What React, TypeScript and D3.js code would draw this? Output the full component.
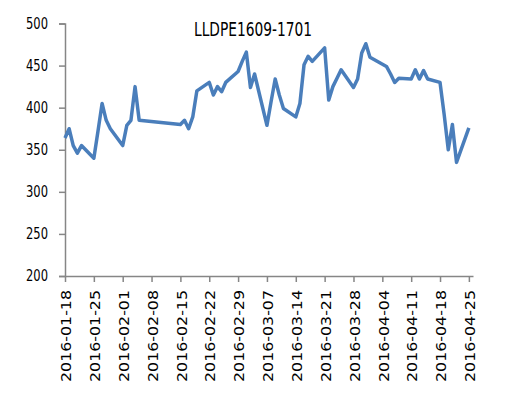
import React, { useEffect, useRef } from 'react'
import * as d3 from 'd3'

const title = 'LLDPE1609-1701'

const dates = [
  '2016-01-18', '2016-01-19', '2016-01-20', '2016-01-21', '2016-01-22',
  '2016-01-25', '2016-01-26', '2016-01-27', '2016-01-28', '2016-01-29',
  '2016-02-01', '2016-02-02', '2016-02-03', '2016-02-04', '2016-02-05',
  '2016-02-15', '2016-02-16', '2016-02-17', '2016-02-18', '2016-02-19',
  '2016-02-22', '2016-02-23', '2016-02-24', '2016-02-25', '2016-02-26',
  '2016-02-29', '2016-03-01', '2016-03-02', '2016-03-03', '2016-03-04',
  '2016-03-07', '2016-03-08', '2016-03-09', '2016-03-10', '2016-03-11',
  '2016-03-14', '2016-03-15', '2016-03-16', '2016-03-17', '2016-03-18',
  '2016-03-21', '2016-03-22', '2016-03-23', '2016-03-24', '2016-03-25',
  '2016-03-28', '2016-03-29', '2016-03-30', '2016-03-31', '2016-04-01',
  '2016-04-05', '2016-04-06', '2016-04-07', '2016-04-08',
  '2016-04-11', '2016-04-12', '2016-04-13', '2016-04-14', '2016-04-15',
  '2016-04-18', '2016-04-19', '2016-04-20', '2016-04-21', '2016-04-22',
  '2016-04-25',
]

const values = [
  364, 375, 355, 346, 355,
  340, 372, 405, 385, 375,
  355, 379, 385, 425, 385,
  380, 385, 375, 389, 420,
  430, 415, 425, 419, 430,
  443, 455, 466, 424, 440,
  379, 407, 434, 415, 399,
  389, 405, 451, 461, 455,
  471, 409, 425, 435, 445,
  424, 434, 465, 476, 460,
  449, 440, 430, 435,
  434, 445, 434, 444, 434,
  430, 392, 350, 380, 335,
  376,
]

const xTickLabels = [
  '2016-01-18', '2016-01-25', '2016-02-01', '2016-02-08', '2016-02-15',
  '2016-02-22', '2016-02-29', '2016-03-07', '2016-03-14', '2016-03-21',
  '2016-03-28', '2016-04-04', '2016-04-11', '2016-04-18', '2016-04-25',
]

const yTicks = [200, 250, 300, 350, 400, 450, 500]

const W = 505
const H = 406
const font = '"DejaVu Sans Condensed", "Liberation Sans Narrow", Arial, sans-serif'

export default function App() {
  const ref = useRef<SVGSVGElement>(null)

  useEffect(() => {
    const svg = d3.select(ref.current)
    svg.selectAll('*').remove()

    const parse = d3.utcParse('%Y-%m-%d')
    const data = dates.map((d, i) => ({ date: parse(d)!, value: values[i] }))
    const xTicks = xTickLabels.map(d => parse(d)!)

    const x = d3.scaleUtc()
      .domain([parse('2016-01-18')!, parse('2016-04-26')!])
      .range([65, 473])
    const y = d3.scaleLinear().domain([200, 500]).range([276, 23.5])

    const axisColor = '#868686'

    // y axis
    const yAxis = svg.append('g').attr('transform', 'translate(65,0)')
      .call(d3.axisLeft(y).tickValues(yTicks).tickSize(6).tickPadding(11))
    yAxis.select('.domain').attr('stroke', axisColor).attr('stroke-width', 1.5)
    yAxis.selectAll('line').attr('stroke', axisColor).attr('stroke-width', 1.5)
    yAxis.selectAll('text')
      .attr('font-family', font)
      .attr('font-size', 15)
      .attr('fill', '#000')
      .attr('textLength', 22)
      .attr('lengthAdjust', 'spacingAndGlyphs')

    // x axis
    const xAxis = svg.append('g').attr('transform', 'translate(0,276)')
      .call(d3.axisBottom(x).tickValues(xTicks).tickSize(6).tickSizeOuter(0)
        .tickFormat(d3.utcFormat('%Y-%m-%d') as any))
    xAxis.select('.domain').attr('stroke', axisColor).attr('stroke-width', 1.5)
    xAxis.selectAll('line').attr('stroke', axisColor).attr('stroke-width', 1.5)
    xAxis.selectAll('text')
      .attr('font-family', font)
      .attr('font-size', 13.5)
      .attr('fill', '#000')
      .attr('transform', 'rotate(-90)')
      .attr('text-anchor', 'end')
      .attr('x', -14)
      .attr('y', 1)
      .attr('dy', '0.35em')
      .attr('textLength', 92)
      .attr('lengthAdjust', 'spacingAndGlyphs')

    // line
    const line = d3.line<{ date: Date; value: number }>()
      .x(d => x(d.date))
      .y(d => y(d.value))
    svg.append('path')
      .datum(data)
      .attr('fill', 'none')
      .attr('stroke', '#4a7ebb')
      .attr('stroke-width', 3.5)
      .attr('stroke-linejoin', 'round')
      .attr('d', line)

    svg.append('text')
      .attr('x', 194)
      .attr('y', 36)
      .attr('font-family', font)
      .attr('font-size', 19.5)
      .attr('fill', '#000')
      .attr('textLength', 118)
      .attr('lengthAdjust', 'spacingAndGlyphs')
      .text(title)
  }, [])

  return (
    <svg ref={ref} width={W} height={H}
      style={{ position: 'absolute', left: 0, top: 0, background: '#fff' }} />
  )
}
